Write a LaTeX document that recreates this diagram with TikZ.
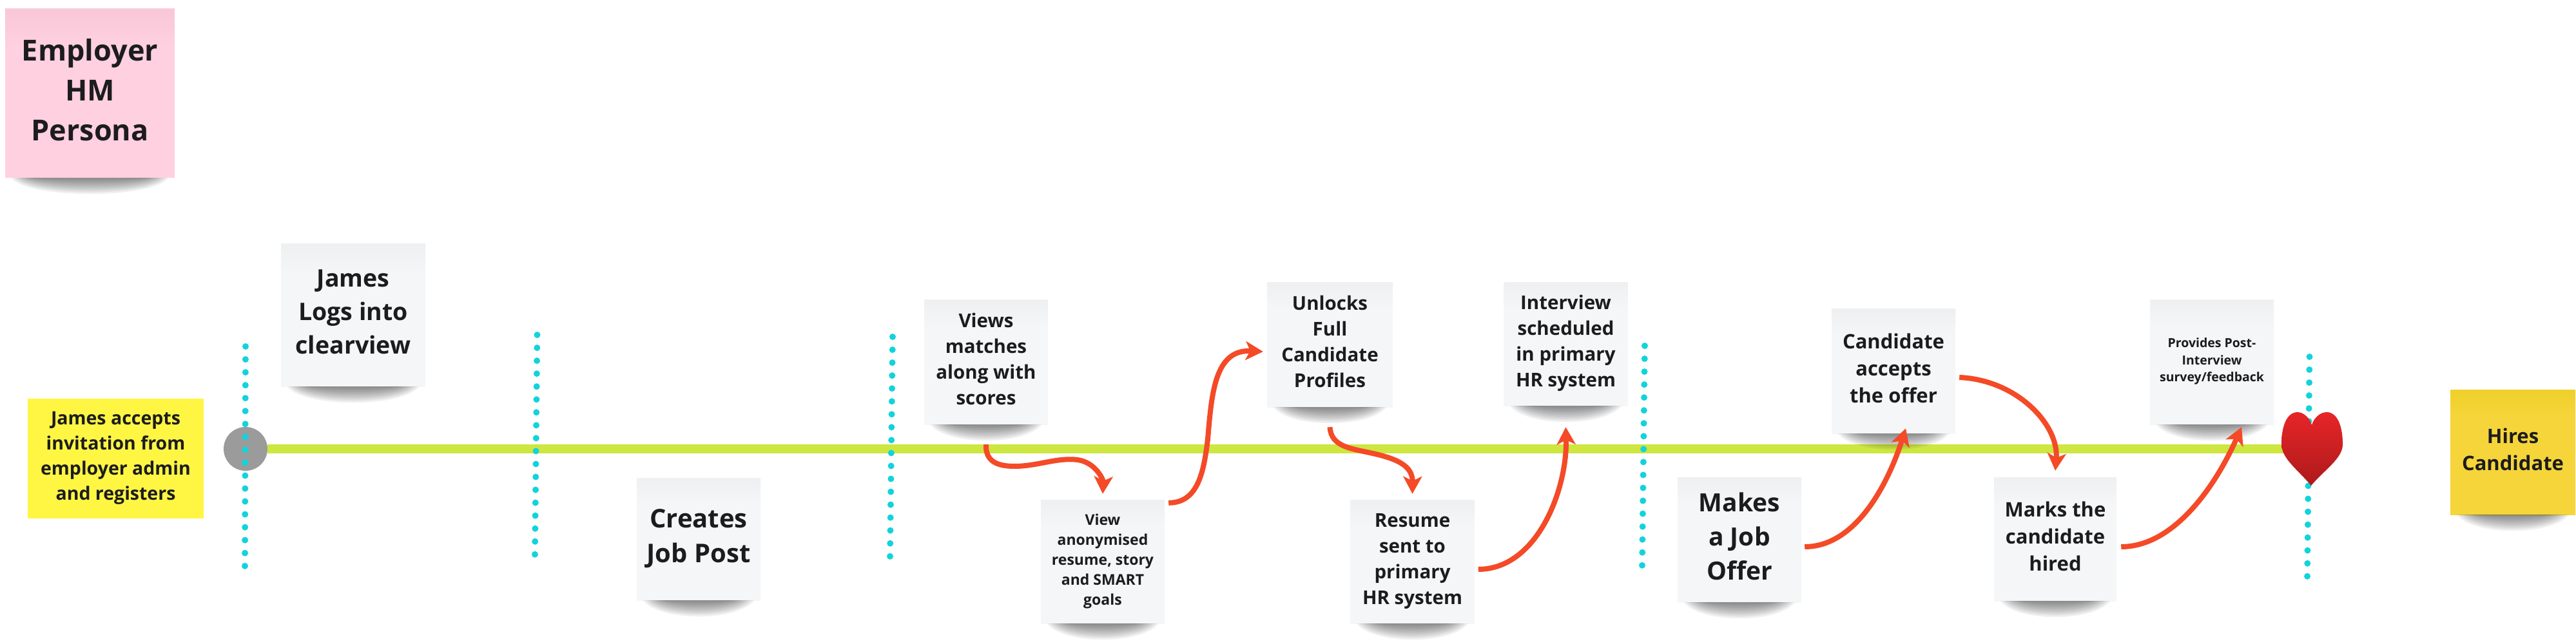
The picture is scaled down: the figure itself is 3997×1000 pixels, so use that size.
\documentclass[tikz,border=0pt]{standalone}
\usepackage{fontspec}
\setmainfont{Open Sans}
\usetikzlibrary{arrows.meta,calc}
\definecolor{inkc}{HTML}{1C1C1E}
\definecolor{grayA}{HTML}{F5F6F8}\definecolor{grayB}{HTML}{EFF0F2}
\definecolor{pinkA}{HTML}{FFD0E0}\definecolor{pinkB}{HTML}{F8C8D8}
\definecolor{goldA}{HTML}{F5D53A}\definecolor{goldB}{HTML}{F0D02C}
\definecolor{yellowc}{HTML}{FFF644}
\definecolor{limec}{HTML}{CDE640}
\definecolor{tealc}{HTML}{12D3DC}
\definecolor{arrowc}{HTML}{F44A27}
\definecolor{greyc}{HTML}{9B9B9B}
\definecolor{heartA}{HTML}{E72528}\definecolor{heartB}{HTML}{AE1A1B}
\pgfdeclareverticalshading{graynote}{100bp}{color(0bp)=(grayA);color(64bp)=(grayA);color(74bp)=(grayB);color(100bp)=(grayB)}
\pgfdeclareverticalshading{pinknote}{100bp}{color(0bp)=(pinkA);color(64bp)=(pinkA);color(74bp)=(pinkB);color(100bp)=(pinkB)}
\pgfdeclareverticalshading{goldnote}{100bp}{color(0bp)=(goldA);color(64bp)=(goldA);color(74bp)=(goldB);color(100bp)=(goldB)}
\tikzset{
  x=1pt,y=-1pt,
  note/.style={inner sep=0pt,align=center,text=inkc,font=\bfseries,minimum width=#1,
    execute at end node={\rule[\dimexpr-.22em-2pt\relax]{0pt}{1pt}}},
  note/.default=192pt,
  fs/.style n args={2}{font=\fontsize{#1}{#2}\selectfont\bfseries},
  dots/.style={line width=10pt,line cap=round,color=tealc,dash pattern=on 0pt off 20.05pt},
  flow/.style={line width=8pt,color=arrowc,-{Stealth[length=27pt,width=29pt,inset=7pt]}},
  timeline/.style={line width=14pt,color=limec},
  shadowlayer/.style={fill=black,fill opacity=.06,draw=none},
}
\begin{document}
\begin{tikzpicture}
\path[use as bounding box,fill=white] (0,0) rectangle (3997,1000);
% timeline
\node[circle,fill=greyc,minimum size=68pt,inner sep=0pt] (start) at (381,697) {};
\coordinate (end) at (3560,697);
\draw[timeline] (start) -- (end);
% dotted separators
\coordinate (d1a) at (381,538);\coordinate (d1b) at (380,879.5);
\coordinate (d2a) at (833.5,520);\coordinate (d2b) at (830,861);
\coordinate (d3a) at (1385,523);\coordinate (d3b) at (1381,864.5);
\coordinate (d4a) at (2552,537);\coordinate (d4b) at (2548,878);
\coordinate (d5a) at (3583.5,554);\coordinate (d5b) at (3580,895.5);
\foreach \n in {1,...,5} \draw[dots] (d\n a) -- (d\n b);
% notes
\node[note=263pt,minimum height=262pt,shading=pinknote,fs={45}{62}] (persona) at (139.5,145) {Employer\\HM\\Persona};
\node[note=273pt,minimum height=186pt,fill=yellowc,fs={28.5}{39}] (invite) at (179.5,712) {James accepts\\invitation from\\employer admin\\and registers};
\node[note=224pt,minimum height=222pt,shading=graynote,fs={37.5}{52}] (logs) at (548,489) {James\\Logs into\\clearview};
\node[note=192pt,minimum height=190pt,shading=graynote,fs={40}{54}] (post) at (1084,837) {Creates\\Job Post};
\node[note,minimum height=194pt,shading=graynote,fs={29.5}{40}] (views) at (1530,562) {Views\\matches\\along with\\scores};
\node[note,minimum height=192pt,shading=graynote,fs={23}{31}] (anon) at (1711,872) {View\\anonymised\\resume, story\\and SMART\\goals};
\node[note=195pt,minimum height=194pt,shading=graynote,fs={29.5}{40}] (unlock) at (2063.5,535) {Unlocks\\Full\\Candidate\\Profiles};
\node[note,minimum height=192pt,shading=graynote,fs={29.5}{40}] (resume) at (2191.5,872) {Resume\\sent to\\primary\\HR system};
\node[note,minimum height=192pt,shading=graynote,fs={29.5}{40}] (iview) at (2429.5,534) {Interview\\scheduled\\in primary\\HR system};
\node[note,minimum height=194pt,shading=graynote,fs={39}{53}] (offer) at (2699,838) {Makes\\a Job\\Offer};
\node[note,minimum height=194pt,shading=graynote,fs={31}{42}] (accept) at (2938,576) {Candidate\\accepts\\the offer};
\node[note=190pt,minimum height=192pt,shading=graynote,fs={31}{42}] (hired) at (3189,837) {Marks the\\candidate\\hired};
\node[note,minimum height=194pt,shading=graynote,fs={19.5}{26.5}] (survey) at (3432,562) {Provides Post-\\Interview\\survey/feedback};
\node[note=194pt,minimum height=194pt,shading=goldnote,fs={31}{42}] (hires) at (3899,702) {Hires\\Candidate};
% soft shadows under the notes
\foreach \n in {persona,logs,post,views,anon,unlock,resume,iview,offer,accept,hired,survey,hires}{
  \foreach \k in {1,...,9}{
    \pgfmathsetmacro{\ins}{46-4*\k}
    \pgfmathsetmacro{\dep}{1+3.6*\k}
    \fill[shadowlayer] ([xshift=\ins pt]\n.south west) .. controls +(25,\dep) and ($(\n.south east)+(-\ins-25,\dep)$) .. ([xshift=-\ins pt]\n.south east) -- cycle;
  }
}
% flow arrows
\draw[flow] ([yshift=-31pt]views.south) .. controls (1529,715) and (1545,724) .. (1574,724) .. controls (1610,724) and (1640,710) .. (1672,714) .. controls (1700,718) and (1712,745) .. ([yshift=9pt]anon.north);
\draw[flow] ([xshift=6pt,yshift=-5pt]anon.north east) .. controls (1860,781) and (1868,730) .. (1874,682) .. controls (1880,610) and (1885,542) .. ([xshift=-6pt,yshift=-11pt]unlock.west);
\draw[flow] ([yshift=-31pt]unlock.south) .. controls (2065,695) and (2100,697) .. (2130,704) .. controls (2165,712) and (2192,722) .. ([yshift=9pt]resume.north);
\draw[flow] ([xshift=6pt,yshift=-12pt]resume.east) .. controls (2385,884) and (2432,760) .. ([yshift=-33pt]iview.south);
\draw[flow] ([xshift=5pt,yshift=-11pt]offer.east) .. controls (2880,849) and (2930,750) .. ([xshift=19pt,yshift=8pt]accept.south);
\draw[flow] ([xshift=6pt,yshift=-10pt]accept.east) .. controls (3130,590) and (3195,660) .. ([yshift=10pt]hired.north);
\draw[flow] ([xshift=7pt,yshift=-12pt]hired.east) .. controls (3375,849) and (3440,750) .. ([xshift=46pt,yshift=-4pt]survey.south);
% heart
\shade[top color=heartA,middle color=heartA!65!heartB,bottom color=heartB,shading angle=0]
  (3587,660) .. controls (3584,649) and (3574,640) .. (3565,640)
  .. controls (3549,640) and (3540,660) .. (3540,690)
  .. controls (3540,712) and (3566,730) .. (3586,754)
  .. controls (3606,730) and (3635,712) .. (3635,690)
  .. controls (3635,660) and (3626,640) .. (3610,640)
  .. controls (3600,640) and (3590,649) .. (3587,660) -- cycle;
\end{tikzpicture}
\end{document}
